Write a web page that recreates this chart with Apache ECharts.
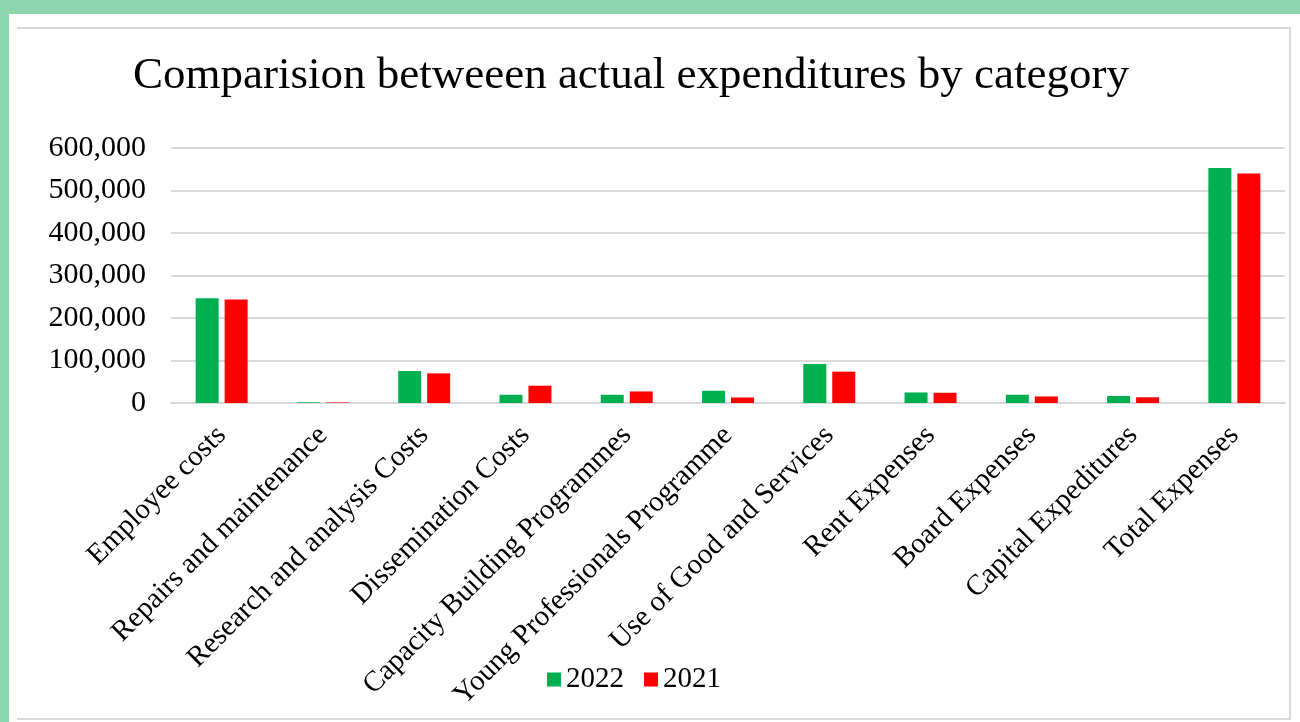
<!DOCTYPE html>
<html>
<head>
<meta charset="utf-8">
<script src="https://cdn.jsdelivr.net/npm/echarts@6/dist/echarts.min.js"></script>
<style>
	html, body { margin: 0; padding: 0; }
	body { width: 1300px; height: 722px; background: #8dd5ad; position: relative; overflow: hidden; }
	#panel { position: absolute; left: 9px; top: 14px; width: 1291px; height: 708px; background: #fff; }
	#frame { position: absolute; left: 8px; top: 13px; width: 1272px; height: 689px;
		border-top: 2px solid #d9d9d9; border-right: 2px solid #d9d9d9; border-bottom: 2px solid #d9d9d9; }
	#main { position: absolute; left: 0; top: 0; width: 1291px; height: 708px; }
</style>
</head>
<body>
<div id="panel">
	<div id="frame"></div>
	<div id="main"></div>
</div>
<script>
/* global echarts */

var categories = ['Employee costs', 'Repairs and maintenance', 'Research and analysis Costs',
	'Dissemination Costs', 'Capacity Building Programmes', 'Young Professionals Programme',
	'Use of Good and Services', 'Rent Expenses', 'Board Expenses', 'Capital Expeditures', 'Total Expenses']
var values2022 = [246500, 1500, 75200, 19400, 19400, 28800, 91700, 24800, 19400, 16500, 553000]
var values2021 = [243500, 1200, 69700, 40700, 27200, 13000, 73800, 24100, 15400, 13400, 540000]
var yTicks = [0, 600000, 100000]

var font = 'Liberation Serif'

var chart = echarts.init(document.getElementById('main'))

function fmt(v){
	return v.toString().replace(/\B(?=(\d{3})+(?!\d))/g, ',')
}

chart.setOption({
	animation: false,
	title: {
		text: 'Comparision betweeen actual expenditures by category',
		left: 119,
		top: 35,
		textStyle: { fontFamily: font, fontSize: 45, fontWeight: 'normal', color: '#000' }
	},
	legend: {
		data: ['2022', '2021'],
		left: 533,
		top: 646,
		icon: 'rect',
		itemWidth: 14,
		itemHeight: 14,
		itemGap: 20,
		textStyle: { fontFamily: font, fontSize: 29, color: '#000' }
	},
	grid: { left: 162, right: 15, top: 134, bottom: 319, containLabel: false },
	xAxis: {
		type: 'category',
		data: categories,
		axisLine: { lineStyle: { color: '#d9d9d9', width: 2 } },
		axisTick: { show: false },
		axisLabel: {
			rotate: 45,
			interval: 0,
			margin: 28,
			fontFamily: font,
			fontSize: 29,
			color: '#000'
		}
	},
	yAxis: {
		type: 'value',
		min: yTicks[0],
		max: yTicks[1],
		interval: yTicks[2],
		axisLine: { show: false },
		axisTick: { show: false },
		splitLine: { lineStyle: { color: '#d9d9d9', width: 2 } },
		axisLabel: {
			margin: 25,
			fontFamily: font,
			fontSize: 30,
			color: '#000',
			formatter: fmt
		}
	},
	series: [
		{
			name: '2022',
			type: 'bar',
			data: values2022,
			barWidth: 23,
			barGap: '26%',
			itemStyle: { color: '#00b050' }
		},
		{
			name: '2021',
			type: 'bar',
			data: values2021,
			barWidth: 23,
			itemStyle: { color: '#ff0000' }
		}
	]
})
</script>
</body>
</html>
